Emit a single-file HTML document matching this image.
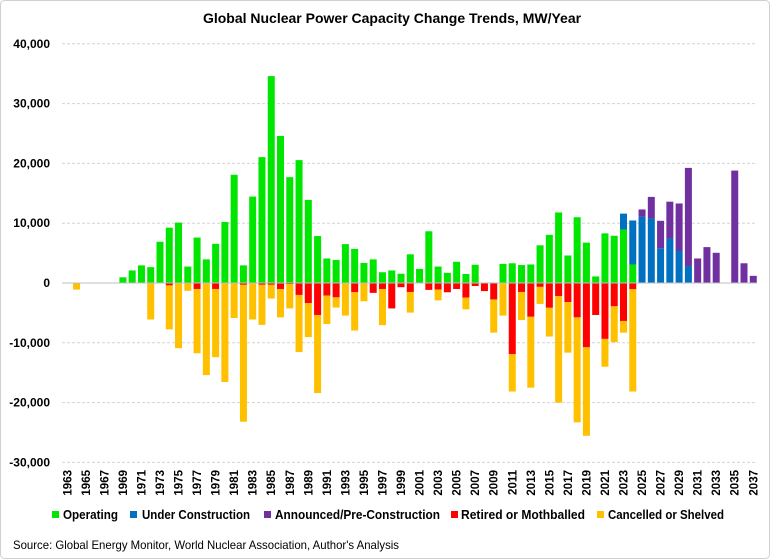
<!DOCTYPE html>
<html><head><meta charset="utf-8"><style>
html,body{margin:0;padding:0;background:#fff;}
svg{display:block;font-family:"Liberation Sans",Arial,sans-serif;}
</style></head><body>
<svg id="chart" width="770" height="559" xmlns="http://www.w3.org/2000/svg">
<rect x="0.5" y="0.5" width="769" height="558" rx="4" fill="#fff" stroke="#d0d0d0"/>
<text x="392" y="23" text-anchor="middle" font-size="14" font-weight="bold" fill="#000">Global Nuclear Power Capacity Change Trends, MW/Year</text>
<g id="grid"></g><g id="bars"></g><g id="axes"></g>
<g font-size="13" font-weight="bold" fill="#000">
<rect x="52" y="511" width="7" height="7" fill="#00e600"/>
<text x="63" y="519" textLength="55" lengthAdjust="spacingAndGlyphs">Operating</text>
<rect x="130" y="511" width="7" height="7" fill="#0070c0"/>
<text x="142" y="519" textLength="108" lengthAdjust="spacingAndGlyphs">Under Construction</text>
<rect x="264" y="511" width="7" height="7" fill="#7030a0"/>
<text x="275" y="519" textLength="165" lengthAdjust="spacingAndGlyphs">Announced/Pre-Construction</text>
<rect x="451" y="511" width="7" height="7" fill="#ff0000"/>
<text x="461" y="519" textLength="124" lengthAdjust="spacingAndGlyphs">Retired or Mothballed</text>
<rect x="597" y="511" width="7" height="7" fill="#ffc000"/>
<text x="608" y="519" textLength="116" lengthAdjust="spacingAndGlyphs">Cancelled or Shelved</text>
</g>
<text x="13" y="549" font-size="12" fill="#000" textLength="386" lengthAdjust="spacingAndGlyphs">Source: Global Energy Monitor, World Nuclear Association, Author's Analysis</text>
</svg>
<script>
const years = [];
for (let y = 1963; y <= 2037; y++) years.push(y);
const yTicks = [40000, 30000, 20000, 10000, 0, -10000, -20000, -30000];
const yTickLabels = ["40,000", "30,000", "20,000", "10,000", "0", "-10,000", "-20,000", "-30,000"];
// 1963..2037
const operating = [0,0,0,0,0,0,950,2100,2950,2650,6900,9250,10100,2750,7600,3950,6550,10200,18100,2950,14450,21050,34600,24600,17700,20550,13900,7850,4100,3850,6500,5700,3350,3950,1800,2100,1550,4800,2350,8650,2750,1700,3550,1500,3050,0,0,3200,3300,3000,3100,6300,8050,11800,4600,11000,6750,1100,8300,7900,8950,3100,0,0,0,0,0,0,0,0,0,0,0,0,0];
const underConstruction = [0,0,0,0,0,0,0,0,0,0,0,0,0,0,0,0,0,0,0,0,0,0,0,0,0,0,0,0,0,0,0,0,0,0,0,0,0,0,0,0,0,0,0,0,0,0,0,0,0,0,0,0,0,0,0,0,0,0,0,0,2650,7350,11100,10800,5800,7450,5350,2850,0,0,0,0,0,0,0];
const announced = [0,0,0,0,0,0,0,0,0,0,0,0,0,0,0,0,0,0,0,0,0,0,0,0,0,0,0,0,0,0,0,0,0,0,0,0,0,0,0,0,0,0,0,0,0,0,0,0,0,0,0,0,0,0,0,0,0,0,0,0,0,0,1200,3600,4600,6150,7950,16400,4100,6000,5050,0,18800,3300,1200];
const retired = [0,0,0,0,0,0,0,0,0,0,0,400,0,0,1000,0,1000,0,0,300,0,300,300,1000,200,2000,3350,5350,2100,2400,0,1550,0,1650,1000,4250,700,1500,0,1150,1100,1550,1000,2450,500,1350,2750,0,11900,1500,5650,650,4150,2200,3200,5750,10750,5350,9350,3900,6350,1050,0,0,0,0,0,0,0,0,0,0,0,0,0];
const cancelled = [0,1100,0,0,0,0,0,0,0,6100,0,7350,10900,1300,10750,15400,11400,16550,5850,22900,6100,6700,2300,4750,4050,9550,5700,13050,4750,1700,5450,6400,3050,0,6050,0,0,3450,0,0,1800,0,0,1950,0,0,5550,5450,6250,4700,11850,2850,4800,17800,8450,17550,14800,0,4650,6000,1950,17100,0,0,0,0,0,0,0,0,0,0,0,0,0];

const NS = "http://www.w3.org/2000/svg";
const x0 = 67.3, step = 9.27, barW = 7;
const yZero = 283, pxPer = 59.8 / 10000;
function xScale(i) { return x0 + i * step; }
function yScale(v) { return yZero - v * pxPer; }
function mk(tag, attrs, parent) {
  const el = document.createElementNS(NS, tag);
  for (const k in attrs) el.setAttribute(k, attrs[k]);
  parent.appendChild(el);
  return el;
}
const grid = document.getElementById('grid');
const bars = document.getElementById('bars');
const axes = document.getElementById('axes');

yTicks.forEach((t, k) => {
  const y = yScale(t);
  if (t !== 0) {
    const ln = mk('line', {x1: 62, x2: 757, y1: y, y2: y, stroke: '#d4d4d4', 'stroke-dasharray': '3,2'}, grid);
    
    
  }
  const tx = mk('text', {x: 50, y: y + 4, 'text-anchor': 'end', 'font-size': 12, 'font-weight': 'bold', fill: '#000'}, axes);
  tx.textContent = yTickLabels[k];
  
  
});

function bar(x, v0, v1, color, name) {
  const ya = yScale(v0), yb = yScale(v1);
  const r = mk('rect', {x: x - barW / 2, y: Math.min(ya, yb), width: barW, height: Math.abs(ya - yb), fill: color}, bars);
  
  
}
years.forEach((yr, i) => {
  const x = xScale(i);
  let p = 0;
  if (operating[i]) { bar(x, p, p + operating[i], '#00e600', 'bar-operating'); p += operating[i]; }
  if (underConstruction[i]) { bar(x, p, p + underConstruction[i], '#0070c0', 'bar-under-construction'); p += underConstruction[i]; }
  if (announced[i]) { bar(x, p, p + announced[i], '#7030a0', 'bar-announced'); p += announced[i]; }
  let n = 0;
  if (retired[i]) { bar(x, n, n - retired[i], '#ff0000', 'bar-retired'); n -= retired[i]; }
  if (cancelled[i]) { bar(x, n, n - cancelled[i], '#ffc000', 'bar-cancelled'); n -= cancelled[i]; }
  if (yr % 2 === 1) {
    const t = mk('text', {x: 0, y: 0, 'font-size': 11.5, 'font-weight': 'bold', fill: '#000', 'text-anchor': 'end', transform: `translate(${x + 4},470) rotate(-90)`}, axes);
    t.textContent = yr;
    
    
  }
});
const zl = mk('line', {x1: 62, x2: 757, y1: yZero, y2: yZero, stroke: '#bfbfbf', 'stroke-width': 1}, axes);


</script>
</body></html>
